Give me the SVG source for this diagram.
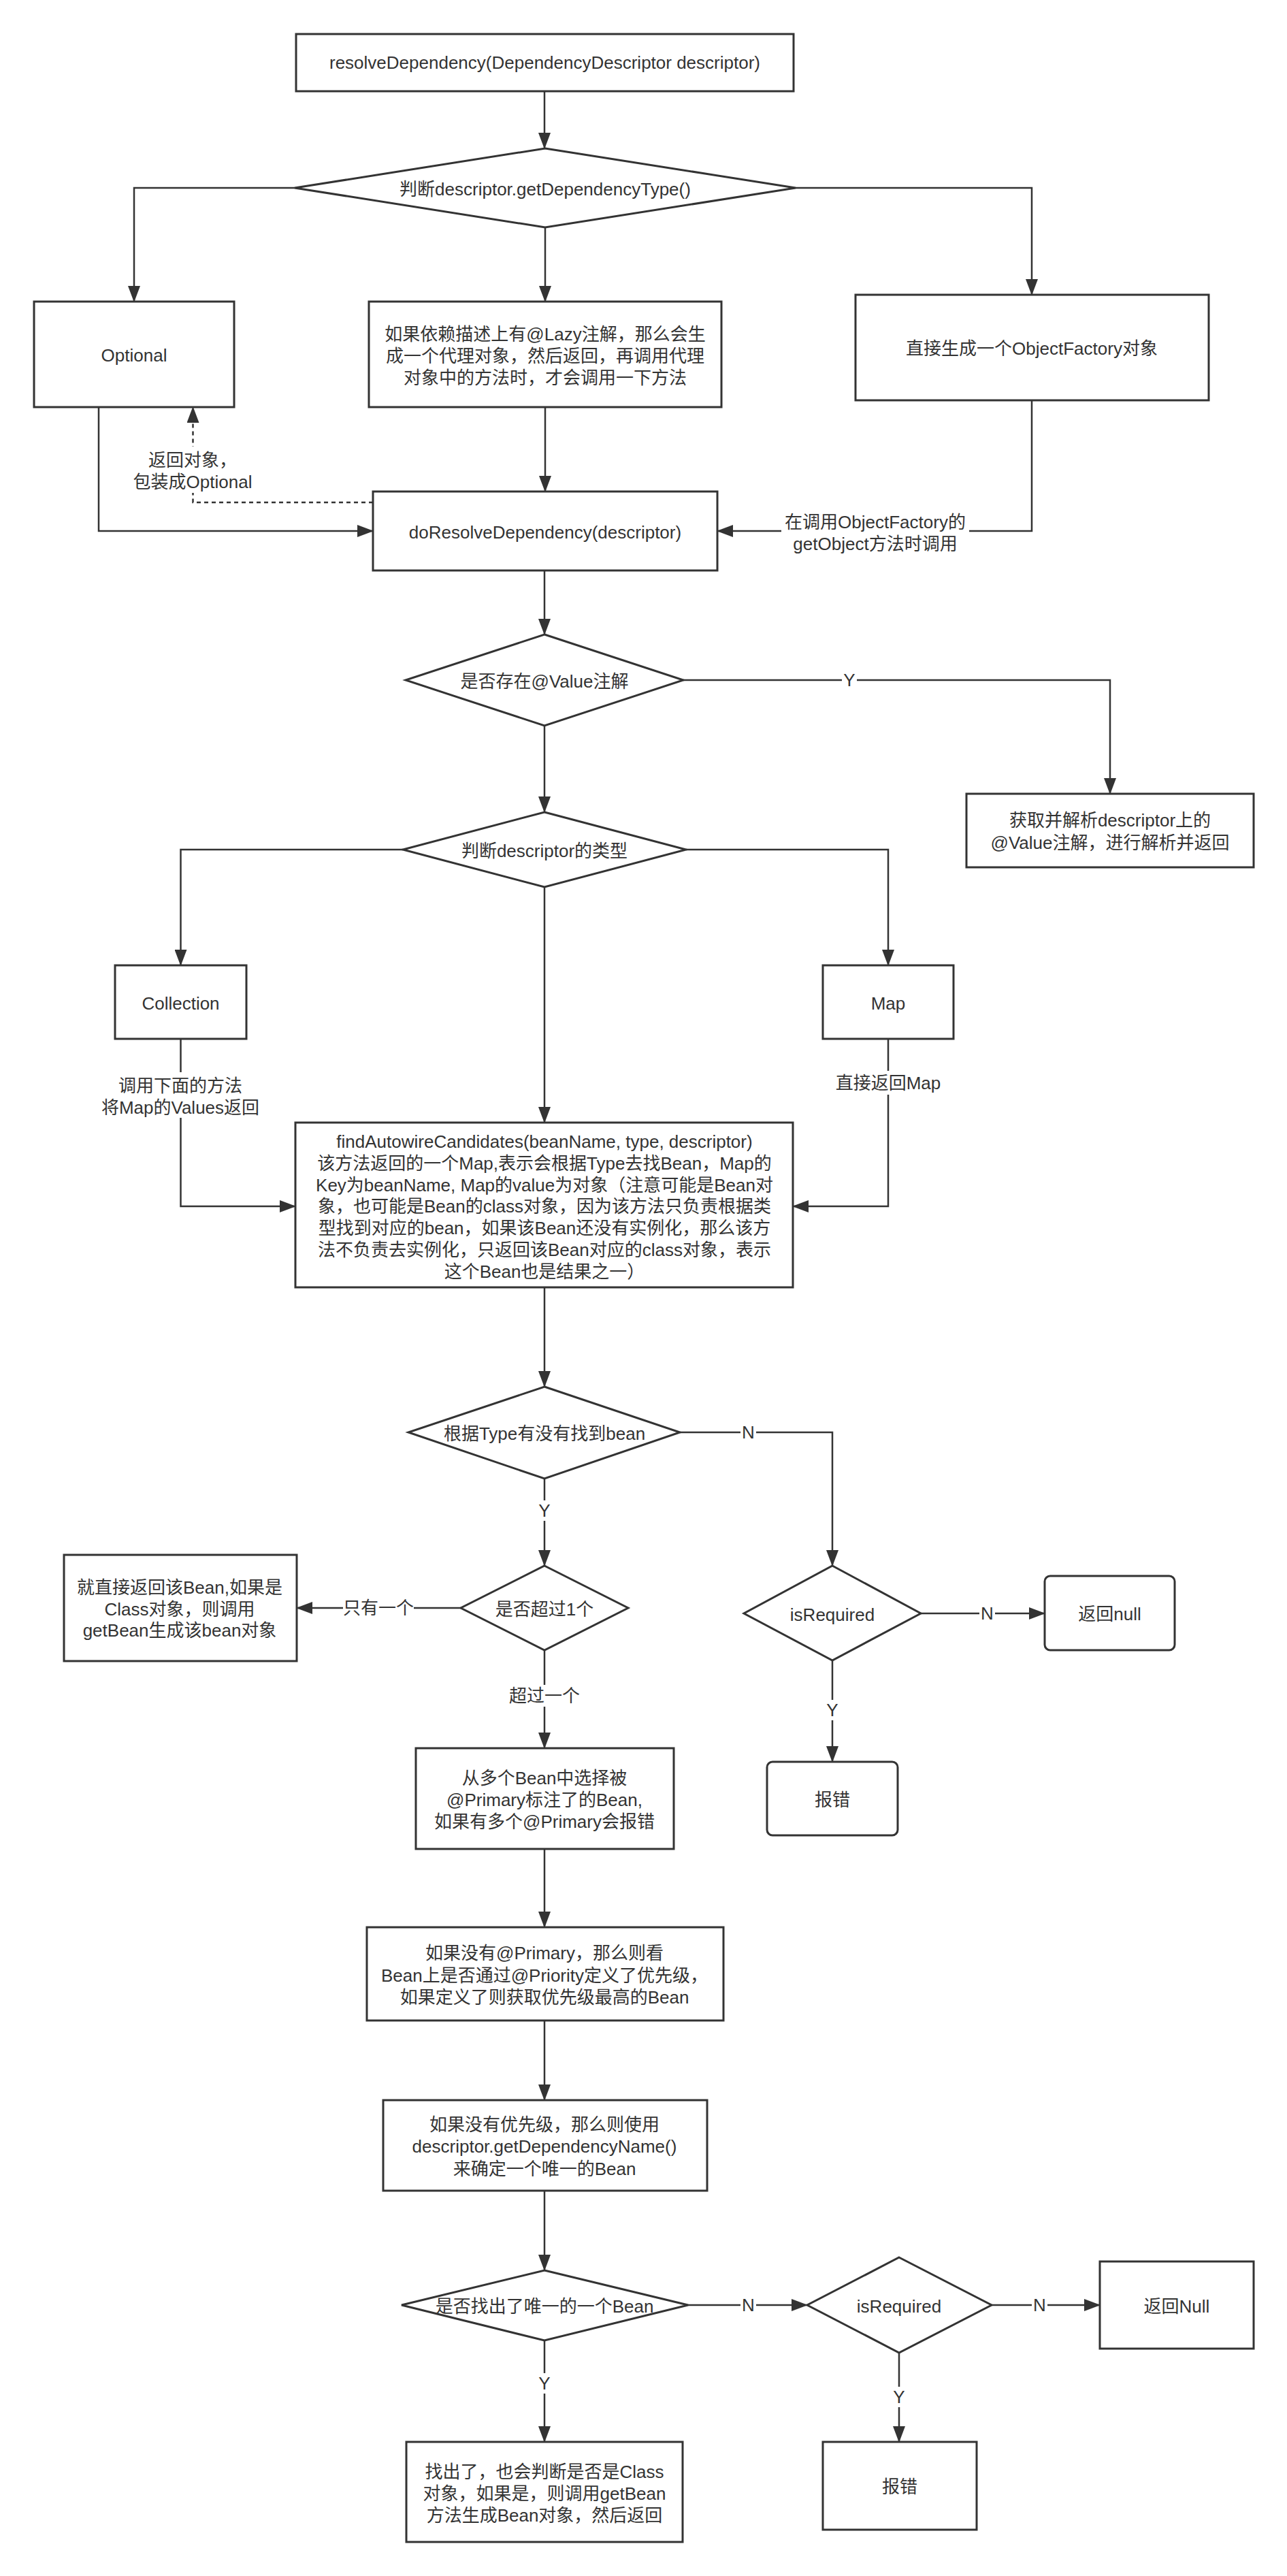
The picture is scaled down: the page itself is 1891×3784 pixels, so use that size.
<svg xmlns="http://www.w3.org/2000/svg" width="1891" height="3784" viewBox="0 0 1891 3784">
<defs>
<style>
.n{fill:#fff;stroke:#333;stroke-width:3}
.e{fill:none;stroke:#333;stroke-width:2.5;marker-end:url(#ah)}
.d{fill:none;stroke:#333;stroke-width:2.5;stroke-dasharray:6 5;marker-end:url(#ah)}
.t{font-family:"Liberation Sans","Noto Sans CJK SC",sans-serif;font-size:26px;fill:#333;text-anchor:middle;dominant-baseline:central}
.lb{fill:#fff;stroke:none}
</style>
<marker id="ah" markerUnits="userSpaceOnUse" markerWidth="24" markerHeight="18" refX="23" refY="9" orient="auto">
<path d="M0,0 L24,9 L0,18 Z" fill="#333"/>
</marker>
</defs>
<rect width="1891" height="3784" fill="#fff"/>

<g id="connectors">
<path class="e" d="M800,134 V218"/>
<path class="e" d="M433,276 H197 V443"/>
<path class="e" d="M801,334 V443"/>
<path class="e" d="M1169,276 H1516 V433"/>
<path class="e" d="M145,598 V780 H548"/>
<path class="d" d="M548,738 H283.5 V598"/>
<path class="e" d="M801,598 V722"/>
<path class="e" d="M1516,588 V780 H1054"/>
<path class="e" d="M800,838 V932"/>
<path class="e" d="M1004,999 H1631 V1166"/>
<path class="e" d="M800,1066 V1193"/>
<path class="e" d="M592,1248 H265.5 V1418"/>
<path class="e" d="M265.5,1526 V1772 H434"/>
<path class="e" d="M1008,1248 H1305 V1418"/>
<path class="e" d="M1305,1526 V1772 H1165"/>
<path class="e" d="M800,1303 V1649"/>
<path class="e" d="M800,1891 V2037"/>
<path class="e" d="M999,2104 H1223 V2300"/>
<path class="e" d="M1353,2370 H1535"/>
<path class="e" d="M1223,2439 V2588"/>
<path class="e" d="M800,2172 V2300"/>
<path class="e" d="M677,2362 H436"/>
<path class="e" d="M800,2424 V2568"/>
<path class="e" d="M800,2716 V2831"/>
<path class="e" d="M800,2968 V3085"/>
<path class="e" d="M800,3218 V3335"/>
<path class="e" d="M1011,3386 H1186"/>
<path class="e" d="M1457,3386 H1616"/>
<path class="e" d="M1321,3456 V3587"/>
<path class="e" d="M800,3438 V3587"/>

<g id="edge-labels">
<rect class="lb" x="195" y="656" width="176" height="68"/>
<text class="t" x="283" y="676">返回对象，</text>
<text class="t" x="283" y="708">包装成Optional</text>
<rect class="lb" x="1148" y="750" width="276" height="66"/>
<text class="t" x="1286" y="767">在调用ObjectFactory的</text>
<text class="t" x="1286" y="799">getObject方法时调用</text>
<rect class="lb" x="1237" y="984" width="22" height="30"/>
<text class="t" x="1248" y="999">Y</text>
<rect class="lb" x="147" y="1575" width="236" height="67"/>
<text class="t" x="265" y="1595">调用下面的方法</text>
<text class="t" x="265" y="1627">将Map的Values返回</text>
<rect class="lb" x="1227" y="1573" width="156" height="35"/>
<text class="t" x="1305" y="1591">直接返回Map</text>
<rect class="lb" x="1088" y="2089" width="23" height="30"/>
<text class="t" x="1099.5" y="2104">N</text>
<rect class="lb" x="1439" y="2355" width="23" height="30"/>
<text class="t" x="1450.5" y="2370">N</text>
<rect class="lb" x="1212" y="2497" width="22" height="30"/>
<text class="t" x="1223" y="2512">Y</text>
<rect class="lb" x="789" y="2204" width="22" height="30"/>
<text class="t" x="800" y="2219">Y</text>
<rect class="lb" x="504" y="2346" width="104" height="32"/>
<text class="t" x="556" y="2362">只有一个</text>
<rect class="lb" x="748" y="2475" width="104" height="32"/>
<text class="t" x="800" y="2491">超过一个</text>
<rect class="lb" x="1088" y="3371" width="23" height="30"/>
<text class="t" x="1099.5" y="3386">N</text>
<rect class="lb" x="1516" y="3371" width="23" height="30"/>
<text class="t" x="1527.5" y="3386">N</text>
<rect class="lb" x="1310" y="3506" width="22" height="30"/>
<text class="t" x="1321" y="3521">Y</text>
<rect class="lb" x="789" y="3486" width="22" height="30"/>
<text class="t" x="800" y="3501">Y</text>
</g>
</g>

<g id="n-resolve"><rect class="n" x="435" y="50" width="731" height="84"/><text class="t" x="800.5" y="92">resolveDependency(DependencyDescriptor descriptor)</text></g>
<g id="n-dtype"><polygon class="n" points="801,218 1169,276 801,334 433,276"/><text class="t" x="801" y="278">判断descriptor.getDependencyType()</text></g>
<g id="n-optional"><rect class="n" x="50" y="443" width="294" height="155"/><text class="t" x="197" y="522">Optional</text></g>
<g id="n-lazy"><rect class="n" x="542" y="443" width="518" height="155"/>
<text class="t" x="801" y="491">如果依赖描述上有@Lazy注解，那么会生</text>
<text class="t" x="801" y="523">成一个代理对象，然后返回，再调用代理</text>
<text class="t" x="801" y="555">对象中的方法时，才会调用一下方法</text></g>
<g id="n-objfactory"><rect class="n" x="1257" y="433" width="519" height="155"/><text class="t" x="1516" y="512">直接生成一个ObjectFactory对象</text></g>
<g id="n-doresolve"><rect class="n" x="548" y="722" width="506" height="116"/><text class="t" x="801" y="782">doResolveDependency(descriptor)</text></g>
<g id="n-value"><polygon class="n" points="800,932 1004,999 800,1066 596,999"/><text class="t" x="800" y="1001">是否存在@Value注解</text></g>
<g id="n-valuebox"><rect class="n" x="1420" y="1166" width="422" height="108"/>
<text class="t" x="1631" y="1205">获取并解析descriptor上的</text>
<text class="t" x="1631" y="1238">@Value注解，进行解析并返回</text></g>
<g id="n-kind"><polygon class="n" points="800,1193 1008,1248 800,1303 592,1248"/><text class="t" x="800" y="1250">判断descriptor的类型</text></g>
<g id="n-collection"><rect class="n" x="169" y="1418" width="193" height="108"/><text class="t" x="265.5" y="1474">Collection</text></g>
<g id="n-map"><rect class="n" x="1209" y="1418" width="192" height="108"/><text class="t" x="1305" y="1474">Map</text></g>
<g id="n-find"><rect class="n" x="434" y="1649" width="731" height="242"/>
<text class="t" x="800" y="1676.5">findAutowireCandidates(beanName, type, descriptor)</text>
<text class="t" x="800" y="1708.5">该方法返回的一个Map,表示会根据Type去找Bean，Map的</text>
<text class="t" x="800" y="1740.5">Key为beanName, Map的value为对象（注意可能是Bean对</text>
<text class="t" x="800" y="1772">象，也可能是Bean的class对象，因为该方法只负责根据类</text>
<text class="t" x="800" y="1803.5">型找到对应的bean，如果该Bean还没有实例化，那么该方</text>
<text class="t" x="800" y="1835.5">法不负责去实例化，只返回该Bean对应的class对象，表示</text>
<text class="t" x="800" y="1867.5">这个Bean也是结果之一）</text></g>
<g id="n-found"><polygon class="n" points="800,2037 999,2104 800,2172 600,2104"/><text class="t" x="800" y="2106">根据Type有没有找到bean</text></g>
<g id="n-req1"><polygon class="n" points="1223,2300 1353,2370 1223,2439 1093,2370"/><text class="t" x="1223" y="2372">isRequired</text></g>
<g id="n-null1"><rect class="n" x="1535" y="2315" width="191" height="109" rx="8"/><text class="t" x="1630.5" y="2371">返回null</text></g>
<g id="n-err1"><rect class="n" x="1127" y="2588" width="192" height="108" rx="8"/><text class="t" x="1223" y="2644">报错</text></g>
<g id="n-more"><polygon class="n" points="800,2300 923,2362 800,2424 677,2362"/><text class="t" x="800" y="2364">是否超过1个</text></g>
<g id="n-direct"><rect class="n" x="94" y="2284" width="342" height="156"/>
<text class="t" x="264" y="2332">就直接返回该Bean,如果是</text>
<text class="t" x="264" y="2364">Class对象，则调用</text>
<text class="t" x="264" y="2395">getBean生成该bean对象</text></g>
<g id="n-primary"><rect class="n" x="611" y="2568" width="379" height="148"/>
<text class="t" x="800" y="2612">从多个Bean中选择被</text>
<text class="t" x="800" y="2644">@Primary标注了的Bean,</text>
<text class="t" x="800" y="2676">如果有多个@Primary会报错</text></g>
<g id="n-priority"><rect class="n" x="539" y="2831" width="524" height="137"/>
<text class="t" x="800" y="2869">如果没有@Primary，那么则看</text>
<text class="t" x="800" y="2901.5">Bean上是否通过@Priority定义了优先级，</text>
<text class="t" x="800" y="2934">如果定义了则获取优先级最高的Bean</text></g>
<g id="n-name"><rect class="n" x="563" y="3085" width="476" height="133"/>
<text class="t" x="800" y="3121">如果没有优先级，那么则使用</text>
<text class="t" x="800" y="3153">descriptor.getDependencyName()</text>
<text class="t" x="800" y="3185.5">来确定一个唯一的Bean</text></g>
<g id="n-unique"><polygon class="n" points="800,3335 1011,3386 800,3438 590,3386"/><text class="t" x="800" y="3388">是否找出了唯一的一个Bean</text></g>
<g id="n-req2"><polygon class="n" points="1321,3316 1457,3386 1321,3456 1186,3386"/><text class="t" x="1321" y="3388">isRequired</text></g>
<g id="n-null2"><rect class="n" x="1616" y="3322" width="226" height="128"/><text class="t" x="1729" y="3388">返回Null</text></g>
<g id="n-err2"><rect class="n" x="1209" y="3587" width="226" height="129"/><text class="t" x="1322" y="3653">报错</text></g>
<g id="n-final"><rect class="n" x="597" y="3587" width="406" height="147"/>
<text class="t" x="800" y="3631">找出了，也会判断是否是Class</text>
<text class="t" x="800" y="3663">对象，如果是，则调用getBean</text>
<text class="t" x="800" y="3695">方法生成Bean对象，然后返回</text></g>
</svg>
